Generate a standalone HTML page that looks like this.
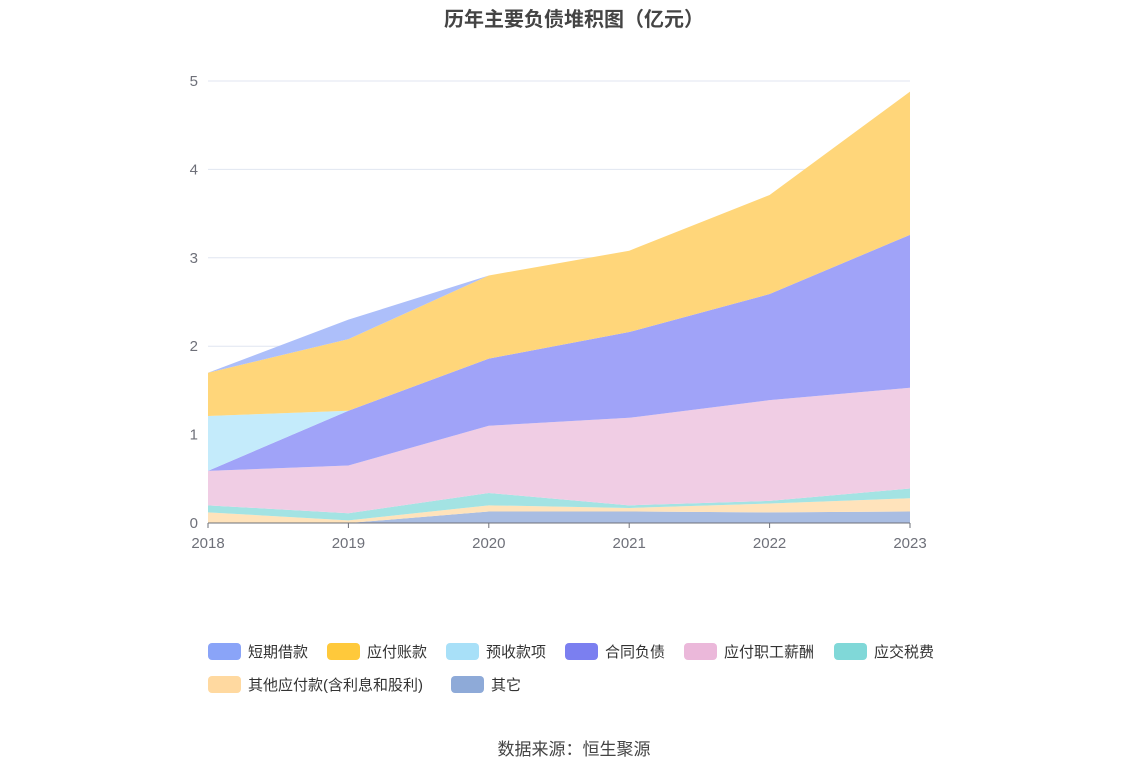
<!DOCTYPE html>
<html><head><meta charset="utf-8">
<style>
body{margin:0;background:#fff;font-family:"Liberation Sans","Noto Sans CJK SC",sans-serif;}
#wrap{position:relative;width:1148px;height:776px;overflow:hidden;}
</style></head>
<body>
<div id="wrap">
<svg id="chart" width="1148" height="776"></svg>
</div>
<script>
const years = ["2018","2019","2020","2021","2022","2023"];
const seriesNames = ["其它","其他应付款(含利息和股利)","应交税费","应付职工薪酬","合同负债","预收款项","应付账款","短期借款"];
const sOther = [0,0,0.13,0.13,0.12,0.13];
const sOtherPay = [0.12,0.03,0.07,0.04,0.10,0.15];
const sTax = [0.08,0.08,0.14,0.03,0.03,0.11];
const sSalary = [0.39,0.54,0.76,0.99,1.14,1.14];
const sContract = [0,0.62,0.76,0.97,1.2,1.73];
const sAdvance = [0.62,0,0,0,0,0];
const sPayable = [0.49,0.81,0.94,0.92,1.12,1.62];
const sShort = [0,0.22,0,0,0,0];
const yTicks = [0,1,2,3,4,5];
const legendNames = ["短期借款","应付账款","预收款项","合同负债","应付职工薪酬","应交税费","其他应付款(含利息和股利)","其它"];

const NS="http://www.w3.org/2000/svg";
const svg=document.getElementById('chart');
const x0=208,x1=910,yb=523,yt=81;
const X=i=>x0+(x1-x0)*i/(years.length-1);
const Y=v=>yb-(yb-yt)*v/5;
function mk(t,a){const e=document.createElementNS(NS,t);for(const k in a)e.setAttribute(k,a[k]);svg.appendChild(e);return e;}

let e=mk('text',{x:574,y:26,'text-anchor':'middle','font-size':20,'font-weight':'bold',fill:'#444'});
e.textContent='历年主要负债堆积图（亿元）';



yTicks.forEach(v=>{
  if(v>0){const l=mk('line',{x1:x0,x2:x1,y1:Y(v),y2:Y(v),stroke:'#e0e6f1'});
  
  }
  const t=mk('text',{x:198,y:Y(v)+5,'text-anchor':'end','font-size':15,fill:'#6e7079'});
  t.textContent=v;
  
  
});

const data=[sOther,sOtherPay,sTax,sSalary,sContract,sAdvance,sPayable,sShort];
const colors=['#8eaad8','#ffd9a0','#80d8d8','#ebb8da','#7b7ff0','#a8e0f8','#ffc93b','#8aa4f8'];
const areaColors=['#a9bde2','#ffe3bb','#a3e3e3','#f0cde4','#a0a3f8','#c4ebfb','#ffd67a','#adbffa'];
let base=years.map(()=>0);
data.forEach((s,k)=>{
  const top=base.map((b,i)=>b+s[i]);
  let d='M'+years.map((_,i)=>X(i)+','+Y(top[i])).join('L');
  for(let i=years.length-1;i>=0;i--)d+='L'+X(i)+','+Y(base[i]);
  d+='Z';
  const p=mk('path',{d:d,fill:areaColors[k],stroke:'none'});
  
  
  base=top;
});

const ax=mk('line',{x1:x0,x2:x1,y1:yb,y2:yb,stroke:'#6e7079'});


years.forEach((yr,i)=>{
  const tk=mk('line',{x1:X(i),x2:X(i),y1:yb,y2:yb+5,stroke:'#6e7079'});
  
  
  const t=mk('text',{x:X(i),y:548,'text-anchor':'middle','font-size':15,fill:'#6e7079'});
  t.textContent=yr;
  
  
});

const legColors=['#8aa4f8','#ffc93b','#a8e0f8','#7b7ff0','#ebb8da','#80d8d8','#ffd9a0','#8eaad8'];
const legX=[208,327,446,565,684,834,208,451];
const legY=[651,651,651,651,651,651,684,684];
legendNames.forEach((n,i)=>{
  const r=mk('rect',{x:legX[i],y:legY[i]-8,width:33,height:17,rx:4,fill:legColors[i]});
  
  
  const t=mk('text',{x:legX[i]+40,y:legY[i]+6,'font-size':15,fill:'#333'});
  t.textContent=n;
  
  
});

e=mk('text',{x:574,y:755,'text-anchor':'middle','font-size':17,fill:'#444'});
e.textContent='数据来源：恒生聚源';


</script>
</body></html>
